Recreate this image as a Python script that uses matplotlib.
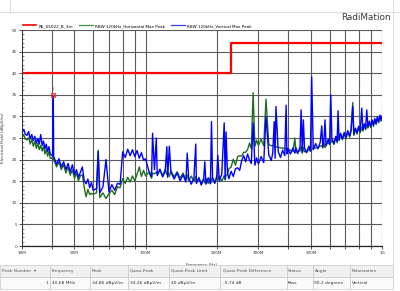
import matplotlib
matplotlib.use("Agg")
import matplotlib.pyplot as plt
from matplotlib.ticker import FixedLocator, NullFormatter, MultipleLocator, FixedFormatter
from matplotlib.lines import Line2D

# sweep frequencies (MHz)
freq_mhz = [
    30, 30.5, 31, 31.5, 32, 32.5, 33, 33.5, 34, 34.5, 35, 35.5, 36, 36.5, 37, 37.5, 38, 38.5, 39, 39.5, 40, 40.5, 40.68, 40.85,
    41, 42, 43, 44, 45, 46, 47, 48, 49, 50, 51, 52, 53, 54, 55, 56, 57, 58, 59, 60,
    62, 63, 64, 66, 68, 70, 72, 74, 76, 78, 80, 82, 84, 86, 88, 90, 92, 94, 96, 98, 100,
    103, 106, 107, 109, 111, 112, 115, 118, 121, 123, 124, 126, 128, 132, 136, 140, 144, 148, 150, 152,
    156, 160, 163, 164, 168, 172, 176, 178, 180, 184, 188, 190, 192, 196, 200,
    202, 205, 210, 215, 217, 219, 222, 225, 230, 235, 240, 245, 250, 255, 260, 265, 270, 275, 280, 285,
    290, 295, 300, 308, 316, 323, 332, 340, 345, 350, 353, 356, 364, 372, 380, 388, 393, 396, 400,
    410, 420, 428, 432, 440, 450, 455, 460, 465, 470, 480, 490, 498, 504, 512, 524, 536, 548, 556, 562,
    568, 574, 580, 592, 600, 607, 614, 626, 638, 646, 652, 658, 668, 680, 692, 704, 716, 730, 740, 752,
    760, 772, 784, 796, 808, 821, 830, 842, 852, 862, 872, 884, 896, 908, 920, 932, 944, 956, 968, 980,
    990, 1000,
]

# RBW 120kHz vertical max peak (dBuV/m)
vert_dbuv = [
    26.2, 27.0, 25.9, 25.6, 26.5, 24.8, 25.8, 24.4, 25.4, 23.8, 24.9, 23.6, 25.8, 23.3, 24.3, 22.5, 23.6, 21.9, 23.0, 21.4, 21.0, 20.9, 34.86, 20.6,
    20.5, 18.9, 20.2, 18.3, 19.5, 17.7, 19.1, 17.1, 18.8, 16.5, 17.7, 15.9, 17.1, 18.3, 15.1, 14.4, 15.5, 13.5, 14.7, 12.9,
    13.3, 21.8, 12.3, 13.7, 20.0, 12.5, 14.2, 12.9, 14.5, 14.3, 21.8, 20.5, 22.4, 20.9, 22.3, 20.7, 22.1, 20.3, 21.6, 19.9, 20.2,
    17.5, 16.1, 26.1, 17.7, 25.0, 16.3, 17.8, 16.0, 17.3, 23.0, 15.9, 23.1, 17.1, 15.5, 16.9, 15.1, 16.5, 14.8, 21.5, 15.9,
    14.3, 15.6, 23.6, 14.5, 15.7, 14.1, 15.5, 19.5, 14.3, 15.8, 14.4, 28.8, 15.7, 14.5, 16.2,
    21.0, 15.1, 16.6, 28.5, 15.5, 26.4, 16.9, 15.6, 17.3, 16.1, 17.9, 18.1, 17.5, 19.8, 20.9, 19.5, 21.3, 19.9, 19.1, 28.5,
    18.7, 20.4, 19.0, 20.7, 19.3, 30.0, 21.1, 19.8, 21.5, 28.8, 20.3, 32.3, 21.8, 20.5, 22.2, 20.9, 32.6, 21.3, 22.6,
    21.3, 22.7, 21.5, 22.8, 21.4, 22.9, 31.5, 21.7, 29.2, 22.7, 21.6, 23.1, 21.9, 39.2, 22.3, 23.7, 22.5, 24.0, 27.8, 22.9,
    24.3, 29.2, 23.2, 24.7, 23.5, 35.0, 24.9, 23.7, 25.4, 24.2, 31.3, 24.7, 26.1, 24.8, 26.3, 25.1, 26.7, 25.5, 27.0, 32.3,
    25.9, 27.3, 26.2, 27.7, 26.5, 31.9, 26.9, 28.3, 27.2, 31.5, 27.6, 28.9, 27.7, 29.2, 28.0, 29.5, 28.4, 29.9, 28.8, 30.3,
    29.2, 30.1,
]

# RBW 120kHz horizontal max peak (dBuV/m)
horiz_dbuv = [
    25.1, 25.8, 24.7, 24.6, 25.1, 23.6, 24.7, 23.1, 24.2, 22.6, 23.8, 22.3, 23.3, 22.0, 23.1, 21.3, 22.4, 20.8, 21.9, 20.3, 20.4, 20.0, 20.6, 19.8,
    19.8, 18.3, 19.5, 17.7, 18.8, 16.9, 18.3, 16.4, 17.6, 15.7, 16.9, 15.1, 16.3, 16.5, 13.5, 11.4, 13.1, 11.9, 12.2, 12.0,
    12.3, 22.2, 11.2, 12.3, 11.0, 12.1, 12.9, 11.9, 13.7, 13.5, 15.6, 14.5, 15.9, 14.8, 16.2, 15.1, 16.6, 18.3, 16.1, 17.5, 16.2,
    17.1, 15.7, 16.9, 16.7, 17.1, 16.6, 17.5, 16.3, 17.7, 16.5, 17.3, 16.1, 17.4, 16.0, 17.2, 15.7, 16.9, 15.4, 16.5, 15.1,
    16.2, 14.9, 16.1, 14.7, 15.9, 14.4, 15.7, 14.6, 15.6, 14.5, 15.8, 14.7, 15.9, 14.6, 15.7,
    15.3, 16.2, 15.0, 16.3, 15.3, 16.5, 16.5, 17.9, 18.3, 20.1, 18.7, 20.7, 20.9, 20.8, 21.7, 21.7, 22.3, 23.8, 22.5, 35.5,
    23.1, 24.5, 23.3, 24.7, 23.2, 34.0, 23.5, 23.2, 23.3, 23.1, 23.1, 22.9, 22.9, 22.7, 22.7, 22.5, 22.5, 22.3, 22.3,
    22.2, 21.9, 25.0, 21.7, 21.9, 22.0, 23.1, 21.5, 22.8, 21.8, 21.9, 22.2, 22.3, 22.5, 22.6, 22.7, 22.8, 23.1, 23.2, 22.7,
    23.9, 22.8, 23.6, 23.8, 23.8, 23.9, 24.6, 23.5, 25.1, 23.9, 25.3, 24.4, 25.8, 24.6, 26.0, 24.8, 26.4, 25.2, 26.6, 33.2,
    25.6, 27.0, 25.9, 27.4, 26.2, 27.5, 26.6, 28.0, 26.9, 28.1, 27.3, 28.6, 27.4, 28.9, 27.7, 29.2, 28.1, 29.6, 28.5, 30.0,
    28.9, 29.8,
]

# EN 55022 class B limit at 3 m
limit_freq = [30, 230, 230, 1000]
limit_dbuv = [40, 40, 47, 47]

peak_freq = 40.68
peak_level = 34.86

xtick_vals = [30, 50, 100, 200, 300, 500, 1000]
xtick_labels = ["30M", "50M", "100M", "200M", "300M", "500M", "1G"]
xgrid_vals = [40, 60, 70, 80, 90, 400, 600, 700, 800, 900]

table_header = ["Peak Number  \u25be", "Frequency", "Peak", "Quasi-Peak", "Quasi-Peak Limit",
                "Quasi-Peak Difference", "Status", "Angle", "Polarization"]
table_row = ["1", "40,68 MHz", "34,86 dB\u00b5V/m", "34,26 dB\u00b5V/m", "40 dB\u00b5V/m",
             "-5,74 dB", "Pass", "90,2 degrees", "Vertical"]
col_widths = [50, 40, 38, 41, 51, 67, 26, 37, 43]

fig = plt.figure(figsize=(4.0, 2.91), dpi=100)
fig.patch.set_facecolor("white")

ax = fig.add_axes([0.055, 0.1546, 0.900, 0.7423])
ax.plot(freq_mhz, horiz_dbuv, color="#1e6e1e", lw=1.0)
ax.plot(freq_mhz, vert_dbuv, color="#0000ff", lw=1.0)
ax.plot(limit_freq, limit_dbuv, color="#ff0000", lw=1.6)
ax.plot([peak_freq], [peak_level], marker="s", ms=2.5, mfc="none", mec="#ff3030", mew=0.6)
ax.plot([peak_freq], [peak_level], marker="x", ms=2.5, mec="#ff3030", mew=0.5)
ax.text(peak_freq, peak_level + 1.0, "1", color="#ff3030", fontsize=3, ha="center", va="bottom")

ax.set_xscale("log")
ax.set_xlim(30, 1000)
ax.set_ylim(0, 50)
ax.xaxis.set_major_locator(FixedLocator(xtick_vals))
ax.xaxis.set_major_formatter(FixedFormatter(xtick_labels))
ax.xaxis.set_minor_locator(FixedLocator(xgrid_vals))
ax.xaxis.set_minor_formatter(NullFormatter())
ax.yaxis.set_major_locator(MultipleLocator(5))
ax.yaxis.set_minor_locator(MultipleLocator(1))
ax.grid(True, which="major", color="#5a5a5a", lw=0.8)
ax.grid(True, which="minor", axis="x", color="#5a5a5a", lw=0.8)
ax.tick_params(axis="both", which="major", labelsize=3, pad=1, length=2.5, width=0.6, colors="#333333")
ax.tick_params(axis="x", which="minor", length=2.5, width=0.6, colors="#333333")
ax.tick_params(axis="y", which="minor", direction="in", length=1.5, width=0.4, colors="#333333")
for s in ["top", "right"]:
    ax.spines[s].set_visible(False)
ax.spines["left"].set_color("#333333")
ax.spines["bottom"].set_color("#222222")
ax.spines["left"].set_linewidth(0.7)
ax.spines["bottom"].set_linewidth(0.9)
ax.set_xlabel("Frequency (Hz)", fontsize=3, color="#333333", labelpad=6)
ax.set_ylabel("Electrical Field (dB\u00b5V/m)", fontsize=3, color="#333333", labelpad=5)

handles = [Line2D([], [], color="#ff0000", lw=1.2),
           Line2D([], [], color="#3c9a3c", lw=0.9),
           Line2D([], [], color="#4040ff", lw=0.9)]
labels = ["RE_55022_B_3m", "RBW 120kHz_Horizontal Max Peak", "RBW 120kHz_Vertical Max Peak"]
fig.legend(handles, labels, loc="center left", bbox_to_anchor=(0.047, 0.911), ncol=3,
           frameon=False, fontsize=3, handlelength=3.2, columnspacing=1.5, handletextpad=0.6)

fig.text(0.978, 0.94, "RadiMation", fontsize=6.4, color="#3a3a3a", ha="right", va="center")

# frame lines of the surrounding panel
fig.add_artist(Line2D([0, 1], [0.959, 0.959], color="#d8d8d8", lw=0.6))
fig.add_artist(Line2D([0.025, 0.025], [0.959, 1.0], color="#d8d8d8", lw=0.6))
fig.add_artist(Line2D([0.982, 0.982], [0.09, 1.0], color="#d8d8d8", lw=0.6))

# peak table
tax = fig.add_axes([0.0, 0.007, 0.9825, 0.083])
tax.axis("off")
total = float(sum(col_widths))
tbl = tax.table(cellText=[table_header, table_row], colWidths=[w / total for w in col_widths],
                cellLoc="left", bbox=[0, 0, 1, 1])
tbl.auto_set_font_size(False)
for (r, c), cell in tbl.get_celld().items():
    cell.set_edgecolor("#c8c8c8")
    cell.set_linewidth(0.5)
    cell.get_text().set_fontsize(3.2)
    cell.get_text().set_color("#333333")
    cell.PAD = 0.04
    if r == 0:
        cell.set_facecolor("#f0f0f0")
        cell.get_text().set_color("#555555")
    else:
        cell.set_facecolor("#fafafa")
    if r == 1 and c == 0:
        cell.get_text().set_ha("right")
        cell._loc = "right"

fig.savefig("out.png", dpi=100, facecolor="white")
